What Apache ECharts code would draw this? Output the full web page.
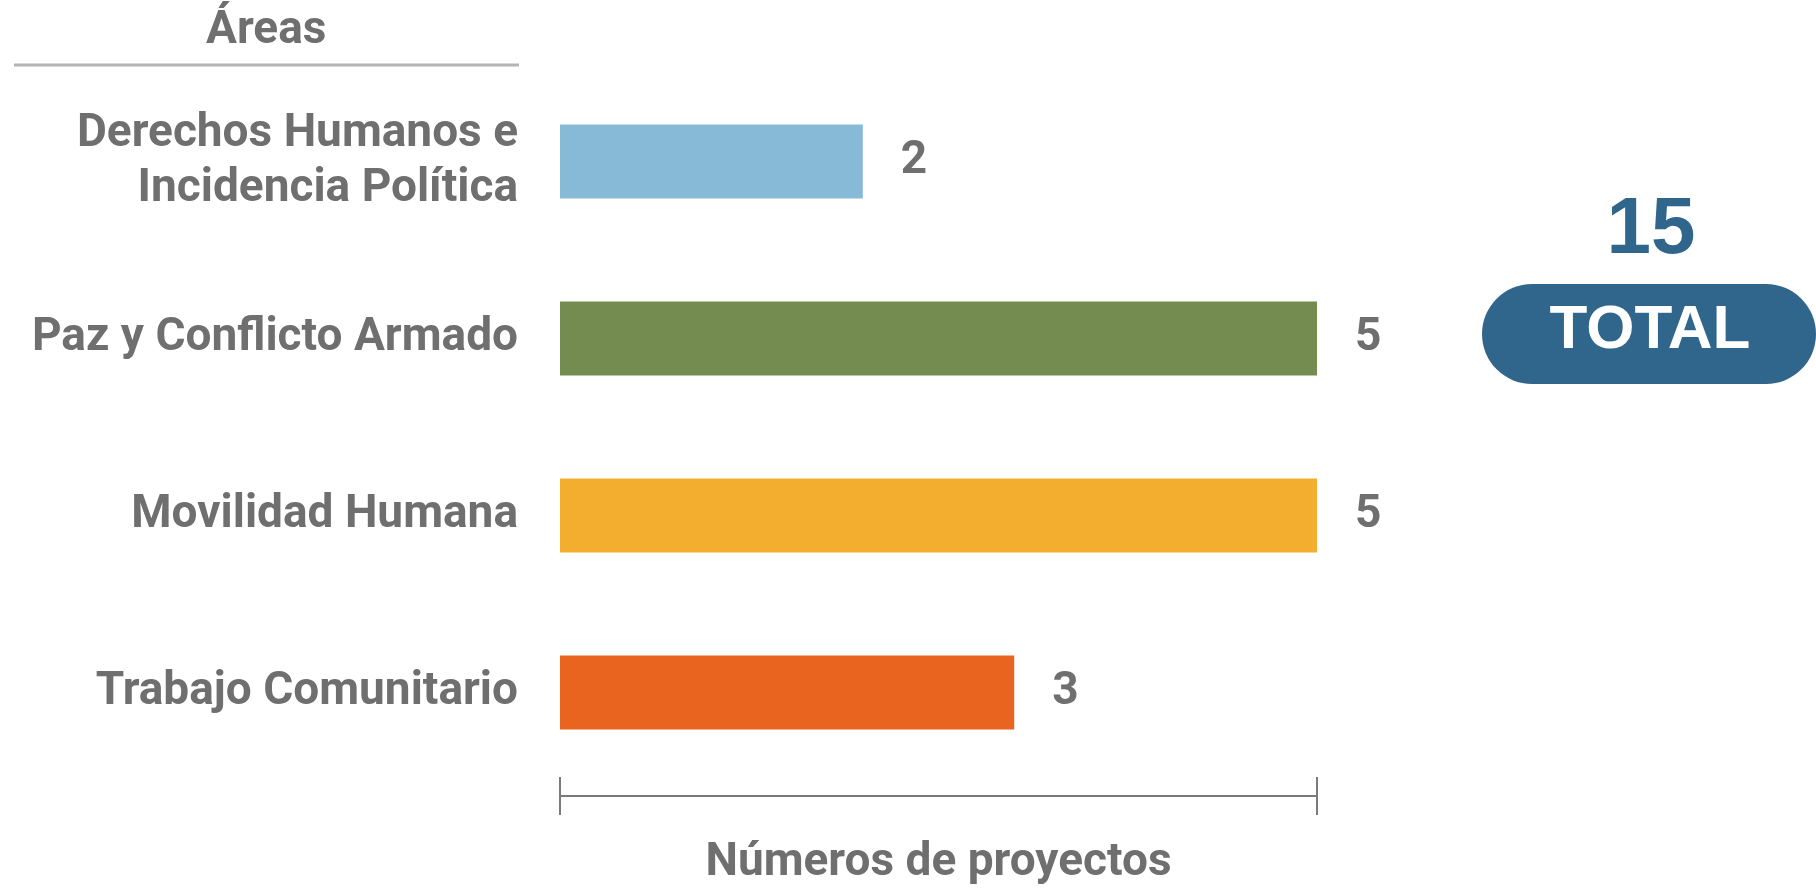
<!DOCTYPE html>
<html>
<head>
<meta charset="utf-8">
<script src="https://cdn.jsdelivr.net/npm/echarts@6/dist/echarts.min.js"></script>
<style>
html,body{margin:0;padding:0;background:#fff;}
#chart{width:1816px;height:891px;}
</style>
</head>
<body>
<div id="chart"></div>
<script>
const categories = ['Derechos Humanos e\nIncidencia Política', 'Paz y Conflicto Armado', 'Movilidad Humana', 'Trabajo Comunitario'];
const values = [2, 5, 5, 3];
const barColors = ['#86bad6', '#758c50', '#f4ae2f', '#e9641e'];
const axisTitle = 'Números de proyectos';
const yTitle = 'Áreas';
const totalValue = '15';
const totalLabel = 'TOTAL';

const gray = '#6f6f6f';
const chart = echarts.init(document.getElementById('chart'));
const tickCommon = {show: true, length: 19, lineStyle: {color: '#7a7a7a', width: 2}};
chart.setOption({
  animation: false,
  backgroundColor: '#ffffff',
  grid: {left: 560, right: 499, top: 73, bottom: 107, containLabel: false},
  xAxis: [{
    type: 'value', min: 0, max: 5, interval: 5, offset: 15,
    axisLine: {show: true, lineStyle: {color: '#7a7a7a', width: 2}},
    axisTick: Object.assign({inside: false}, tickCommon),
    axisLabel: {show: false}, splitLine: {show: false},
    name: axisTitle, nameLocation: 'middle', nameGap: 67,
    nameTextStyle: {fontFamily: 'Roboto', fontWeight: 'bold', fontSize: 46, color: gray, verticalAlign: 'middle'}
  }, {
    type: 'value', min: 0, max: 5, interval: 5, offset: 15, position: 'bottom',
    axisLine: {show: false},
    axisTick: Object.assign({inside: true}, tickCommon),
    axisLabel: {show: false}, splitLine: {show: false}
  }],
  yAxis: {
    type: 'category', data: categories, inverse: true,
    axisLine: {show: false}, axisTick: {show: false}, splitLine: {show: false},
    axisLabel: {fontFamily: 'Roboto', fontWeight: 'bold', fontSize: 46, color: gray, lineHeight: 55, margin: 42, align: 'right'}
  },
  series: [{
    type: 'bar', xAxisIndex: 0, barWidth: 74,
    data: values.map((v, i) => ({value: v, itemStyle: {color: barColors[i]}})),
    label: {show: true, position: 'right', distance: 38, fontFamily: 'Roboto', fontWeight: 'bold', fontSize: 46, color: gray}
  }],
  graphic: [
    {type: 'text', left: 206, top: 8, style: {text: yTitle, fontFamily: 'Roboto', fontWeight: 'bold', fontSize: 46, fill: gray}},
    {type: 'line', shape: {x1: 14, y1: 65, x2: 519, y2: 65}, style: {stroke: '#b4b4b4', lineWidth: 3}},
    {type: 'rect', shape: {x: 1482, y: 284, width: 334, height: 100, r: 50}, style: {fill: '#31668c'}},
    {type: 'text', x: 1650, y: 331, style: {text: totalLabel, fontFamily: 'Liberation Sans', fontWeight: 'bold', fontSize: 62, fill: '#ffffff', align: 'center', verticalAlign: 'middle'}},
    {type: 'text', x: 1651, y: 231, style: {text: totalValue, fontFamily: 'Liberation Sans', fontWeight: 'bold', fontSize: 80, fill: '#31668c', align: 'center', verticalAlign: 'middle'}}
  ]
});
</script>
</body>
</html>
